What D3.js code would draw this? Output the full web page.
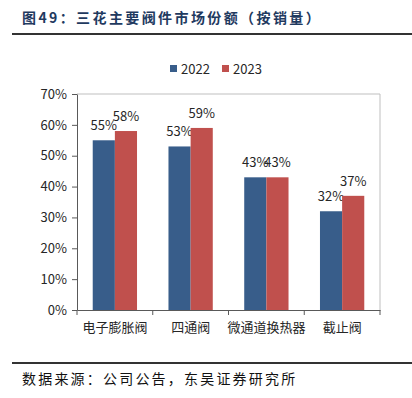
<!doctype html>
<html>
  <head>
    <meta charset="utf-8">
    <title>三花主要阀件市场份额</title>
    <script src="https://cdn.jsdelivr.net/npm/d3@7"></script>
    <style>
      body { margin: 0; background: #fff; }
      text { font-family: "Noto Sans CJK SC", "Noto Sans", sans-serif; }
    </style>
  </head>
  <body>
    <script>
      const categories = ['电子膨胀阀', '四通阀', '微通道换热器', '截止阀'];
      const seriesNames = ['2022', '2023'];
      const values2022 = [55, 53, 43, 32];
      const values2023 = [58, 59, 43, 37];
      const yTicks = [0, 10, 20, 30, 40, 50, 60, 70];
      const colors = ['#385d8a', '#c0504d'];

      const width = 412, height = 398;
      const plot = {left: 77, right: 380, top: 94, bottom: 310};

      const svg = d3.select('body').append('svg')
          .attr('width', width)
          .attr('height', height);

      // 标题
      svg.append('text')
          .attr('x', 22).attr('y', 23)
          .attr('font-size', 14).attr('font-weight', 'bold')
          .attr('letter-spacing', 2.4)
          .attr('fill', '#1f3a5f')
          .text('图49：三花主要阀件市场份额（按销量）');
      svg.append('line')
          .attr('x1', 12).attr('x2', 412).attr('y1', 34).attr('y2', 34)
          .attr('stroke', '#333').attr('stroke-width', 2);

      const x = d3.scaleBand().domain(categories).range([plot.left, plot.right]);
      const inner = d3.scaleBand().domain(seriesNames)
          .range([0, x.bandwidth()]).paddingInner(0).paddingOuter(0.71);
      const y = d3.scaleLinear().domain([0, 70]).range([plot.bottom, plot.top]);

      // 边框
      svg.append('path')
          .attr('d', `M${plot.left},${plot.top}H${plot.right}V${plot.bottom}`)
          .attr('fill', 'none').attr('stroke', '#bfbfbf');

      // y 轴
      const yAxis = svg.append('g')
          .attr('transform', `translate(${plot.left},0)`)
          .call(d3.axisLeft(y).tickValues(yTicks).tickSize(5).tickSizeOuter(0).tickPadding(5)
            .tickFormat(d => d + '%'));
      yAxis.select('.domain').attr('stroke', '#595959');
      yAxis.selectAll('line').attr('stroke', '#595959');
      yAxis.selectAll('text').attr('font-size', 13).attr('fill', '#262626')
          .attr('font-family', '"Noto Sans", sans-serif');

      // x 轴
      const xAxis = svg.append('g')
          .attr('transform', `translate(0,${plot.bottom})`)
          .call(d3.axisBottom(x).tickSize(0).tickPadding(13));
      xAxis.select('.domain').attr('stroke', '#595959');
      xAxis.selectAll('text').attr('font-size', 13).attr('fill', '#262626');
      const bounds = categories.map(c => x(c)).concat([plot.right]);
      svg.append('g').selectAll('line')
        .data(bounds)
        .enter().append('line')
          .attr('x1', d => d).attr('x2', d => d)
          .attr('y1', plot.bottom).attr('y2', plot.bottom + 5)
          .attr('stroke', '#595959');

      // 柱子
      const series = [values2022, values2023];
      series.forEach((vals, si) => {
        const g = svg.append('g');
        g.selectAll('rect')
          .data(vals)
          .enter().append('rect')
            .attr('x', (d, i) => x(categories[i]) + inner(seriesNames[si]))
            .attr('y', d => y(d))
            .attr('width', inner.bandwidth())
            .attr('height', d => y(0) - y(d))
            .attr('fill', colors[si]);
        g.selectAll('text')
          .data(vals)
          .enter().append('text')
            .attr('x', (d, i) => x(categories[i]) + inner(seriesNames[si]) + inner.bandwidth() / 2)
            .attr('y', d => y(d) - 10)
            .attr('text-anchor', 'middle')
            .attr('font-size', 13).attr('fill', '#262626')
            .attr('font-family', '"Noto Sans", sans-serif')
            .text(d => d + '%');
      });

      // 图例
      const legend = svg.append('g')
        .selectAll('g')
        .data(seriesNames)
        .enter().append('g')
          .attr('transform', (d, i) => `translate(${170 + i * 52},65)`);
      legend.append('rect')
          .attr('width', 7).attr('height', 7)
          .attr('fill', (d, i) => colors[i]);
      legend.append('text')
          .attr('x', 11).attr('y', 8.5)
          .attr('font-size', 13).attr('fill', '#262626')
          .attr('font-family', '"Noto Sans", sans-serif')
          .text(d => d);

      // 来源
      svg.append('line')
          .attr('x1', 12).attr('x2', 412).attr('y1', 363).attr('y2', 363)
          .attr('stroke', '#333').attr('stroke-width', 2);
      svg.append('text')
          .attr('x', 22).attr('y', 384)
          .attr('font-size', 14).attr('fill', '#111')
          .attr('letter-spacing', 2.2)
          .text('数据来源：公司公告，东吴证券研究所');
    </script>
  </body>
</html>
